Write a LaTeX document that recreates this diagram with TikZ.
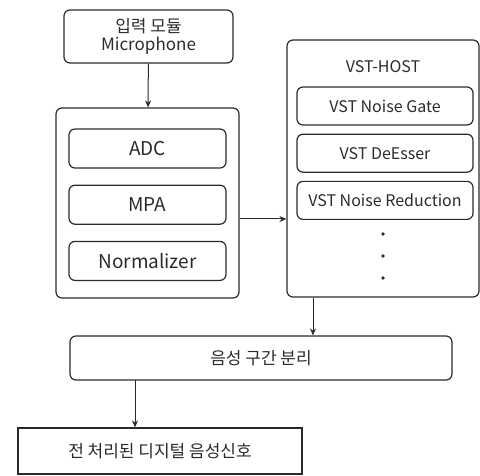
\documentclass[tikz,border=0pt]{standalone}
\usepackage{fontspec}
\setmainfont{Noto Sans CJK KR}
\usepackage{xcolor}
\definecolor{Ink}{HTML}{2B2B2B}
\colorlet{ink}{Ink}
\usepackage{tikz}
\usetikzlibrary{arrows.meta,positioning,calc}

\begin{document}
\begin{tikzpicture}[x=0.5pt,y=-0.5pt,every node/.style={font=\fontsize{8.5}{10}\selectfont,align=center,text=ink},
  blk/.style={draw=ink,line width=0.6pt,rounded corners=3pt,inner sep=0pt},
  arr/.style={-{Stealth[length=3.5pt,width=3pt]},draw=ink,line width=0.5pt}]
\useasboundingbox (0,0) rectangle (480,475);
\node[blk,minimum width=84.5pt,minimum height=26.5pt] (mic) at (148.5,36.5) {입력 모듈\\[-1pt]Microphone};
\node[blk,minimum width=91.5pt,minimum height=95pt] (pre) at (147.5,203) {};
\node[blk,minimum width=78.5pt,minimum height=19.5pt,font=\fontsize{9.5}{11}\selectfont] (adc) at (147.5,148.5) {ADC};
\node[blk,minimum width=78.5pt,minimum height=19.5pt,font=\fontsize{9.5}{11}\selectfont,below=8pt of adc] (mpa) {MPA};
\node[blk,minimum width=78.5pt,minimum height=19.5pt,font=\fontsize{9.5}{11}\selectfont,below=8pt of mpa] (norm) {Normalizer};
\node[blk,minimum width=96pt,minimum height=128.5pt] (vst) at (383,168.5) {};
\node[font=\fontsize{8}{10}\selectfont] (host) at (383,67) {VST-HOST};
\node[blk,minimum width=88pt,minimum height=19pt,font=\fontsize{8}{10}\selectfont] (gate) at (385,106) {VST Noise Gate};
\node[blk,minimum width=88pt,minimum height=19pt,font=\fontsize{8}{10}\selectfont,below=4pt of gate] (dess) {VST DeEsser};
\node[blk,minimum width=88pt,minimum height=19pt,font=\fontsize{8}{10}\selectfont,below=4pt of dess] (nred) {VST Noise Reduction};
\foreach \y in {234,256,278} \fill[ink] (383,\y) circle (0.9pt);
\node[blk,minimum width=191pt,minimum height=22pt] (seg) at (261,358) {음성 구간 분리};
\node[draw=ink,line width=0.6pt,inner sep=0pt,minimum width=142pt,minimum height=23pt] (out) at (160,451) {전 처리된 디지털 음성신호};
\draw[arr] (mic)--(pre);
\draw[arr] ([yshift=-8pt]pre.east)--([yshift=-8pt]pre.east -| vst.west);
\draw[arr] ([xshift=-35pt]vst.south)--([xshift=-35pt]vst.south |- seg.north);
\coordinate (sx) at (135,380);
\draw[arr] (sx)--(sx |- out.north);
\end{tikzpicture}
\end{document}
